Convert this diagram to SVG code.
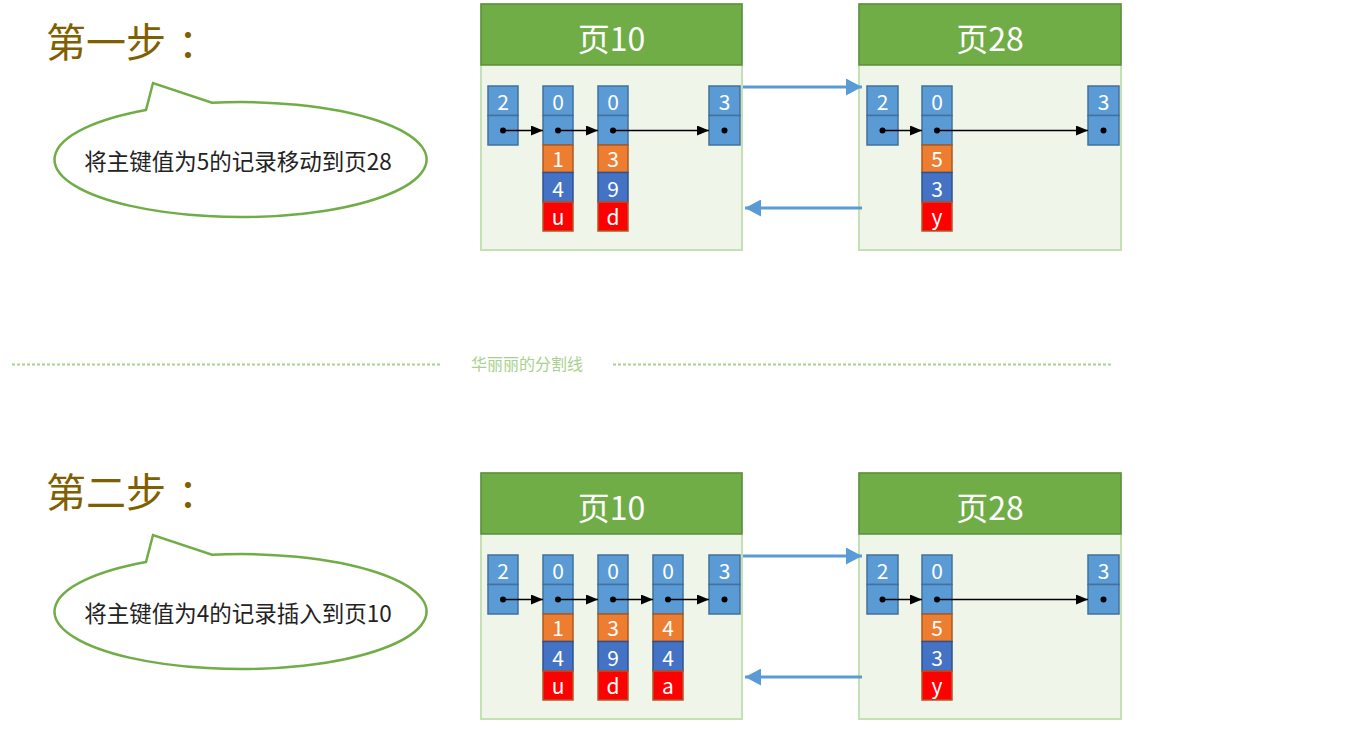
<svg xmlns="http://www.w3.org/2000/svg" width="1359" height="730" viewBox="0 0 1359 730">
<style>
.page{fill:#eff5e9;stroke:#c5e0b4;stroke-width:2}
.hdr{fill:#70ad47;stroke:#5b8f3b;stroke-width:1.5}
.htxt{fill:#fff;font-family:"Noto Sans CJK SC",sans-serif;font-size:32px;text-anchor:middle}
.c{fill:#5b9bd5;stroke:#41719c;stroke-width:1.5}
.o{fill:#ed7d31;stroke:#ae5a21;stroke-width:1.5}
.b{fill:#4472c4;stroke:#2f528f;stroke-width:1.5}
.r{fill:#ff0000;stroke:#b4562a;stroke-width:1.5}
.t{fill:#fff;font-family:"Noto Sans CJK SC",sans-serif;font-size:21px;text-anchor:middle}
.d{fill:#000}
.ptr{stroke:#000;stroke-width:1.3;fill:none;marker-end:url(#ah)}
.link{stroke:#5b9bd5;stroke-width:3;fill:none;marker-end:url(#bh)}
.title{fill:#7f6000;font-family:"Noto Sans CJK SC",sans-serif;font-size:40px}
.bubble{fill:#fff;stroke:#70ad47;stroke-width:2.5}
.btxt{fill:#222;font-family:"Noto Sans CJK SC",sans-serif;font-size:22.5px;text-anchor:middle}
.div{stroke:#a9d18e;stroke-width:2;stroke-dasharray:3 2}
.dtxt{fill:#a9d18e;font-family:"Noto Sans CJK SC",sans-serif;font-size:16px;text-anchor:middle}
</style>
<defs>
<marker id="ah" markerUnits="userSpaceOnUse" markerWidth="12" markerHeight="10" refX="12" refY="5" orient="auto"><path d="M0,0 L12,5 L0,10 z" fill="#000"/></marker>
<marker id="bh" markerUnits="userSpaceOnUse" markerWidth="17" markerHeight="17" refX="16" refY="8.5" orient="auto"><path d="M0,0 L16,8.5 L0,17 z" fill="#5b9bd5"/></marker>
</defs>
<rect width="1359" height="730" fill="#fff"/>

<g id="step1-title"><text class="title" x="46" y="57">第一步<tspan dx="12">：</tspan></text></g>
<g id="step1-bubble">
<path class="bubble" d="M146,110 L153,83 L212,102.7 A186 57.5 0 1 1 146,110 Z"/>
<text class="btxt" x="238" y="170">将主键值为5的记录移动到页28</text>
</g>

<g id="step1-page10">
<rect class="page" x="481" y="4" width="261" height="246"/>
<rect class="hdr" x="481" y="4" width="261" height="61"/>
<text class="htxt" x="611.5" y="51">页10</text>
<g transform="translate(488,0)"><rect class="c" x="0" y="86" width="30" height="29.5"/><rect class="c" x="0" y="115.5" width="30" height="29.5"/><text class="t" x="15" y="110">2</text><circle class="d" cx="15" cy="130.5" r="3"/></g>
<g transform="translate(543,0)"><rect class="c" x="0" y="86" width="30" height="29.5"/><rect class="c" x="0" y="115.5" width="30" height="29.5"/><text class="t" x="15" y="110">0</text><circle class="d" cx="15" cy="130.5" r="3"/>
<rect class="o" x="0" y="145" width="30" height="27.5"/><rect class="b" x="0" y="172.5" width="30" height="29.5"/><rect class="r" x="0" y="202" width="30" height="29"/>
<text class="t" x="15" y="167">1</text><text class="t" x="15" y="196.5">4</text><text class="t" x="15" y="224.5">u</text></g>
<g transform="translate(598,0)"><rect class="c" x="0" y="86" width="30" height="29.5"/><rect class="c" x="0" y="115.5" width="30" height="29.5"/><text class="t" x="15" y="110">0</text><circle class="d" cx="15" cy="130.5" r="3"/>
<rect class="o" x="0" y="145" width="30" height="27.5"/><rect class="b" x="0" y="172.5" width="30" height="29.5"/><rect class="r" x="0" y="202" width="30" height="29"/>
<text class="t" x="15" y="167">3</text><text class="t" x="15" y="196.5">9</text><text class="t" x="15" y="224.5">d</text></g>
<g transform="translate(709,0)"><rect class="c" x="0" y="86" width="31" height="29.5"/><rect class="c" x="0" y="115.5" width="31" height="29.5"/><text class="t" x="15.5" y="110">3</text><circle class="d" cx="15.5" cy="130.5" r="3"/></g>
</g>

<g id="step1-page28">
<rect class="page" x="859" y="4" width="262" height="246"/>
<rect class="hdr" x="859" y="4" width="262" height="61"/>
<text class="htxt" x="990" y="51">页28</text>
<g transform="translate(867,0)"><rect class="c" x="0" y="86" width="31" height="29.5"/><rect class="c" x="0" y="115.5" width="31" height="29.5"/><text class="t" x="15.5" y="110">2</text><circle class="d" cx="15.5" cy="130.5" r="3"/></g>
<g transform="translate(922,0)"><rect class="c" x="0" y="86" width="30" height="29.5"/><rect class="c" x="0" y="115.5" width="30" height="29.5"/><text class="t" x="15" y="110">0</text><circle class="d" cx="15" cy="130.5" r="3"/>
<rect class="o" x="0" y="145" width="30" height="27.5"/><rect class="b" x="0" y="172.5" width="30" height="29.5"/><rect class="r" x="0" y="202" width="30" height="29"/>
<text class="t" x="15" y="167">5</text><text class="t" x="15" y="196.5">3</text><text class="t" x="15" y="224.5">y</text></g>
<g transform="translate(1088,0)"><rect class="c" x="0" y="86" width="31" height="29.5"/><rect class="c" x="0" y="115.5" width="31" height="29.5"/><text class="t" x="15.5" y="110">3</text><circle class="d" cx="15.5" cy="130.5" r="3"/></g>
</g>

<g id="divider">
<line class="div" x1="12" y1="364.5" x2="440" y2="364.5"/>
<line class="div" x1="613" y1="364.5" x2="1113" y2="364.5"/>
<text class="dtxt" x="527" y="370">华丽丽的分割线</text>
</g>

<g id="step2-title"><text class="title" x="46" y="507">第二步<tspan dx="12">：</tspan></text></g>
<g id="step2-bubble" transform="translate(0,452)">
<path class="bubble" d="M146,110 L153,83 L212,102.7 A186 57.5 0 1 1 146,110 Z"/>
<text class="btxt" x="238" y="170">将主键值为4的记录插入到页10</text>
</g>

<g id="step2-page10" transform="translate(0,469)">
<rect class="page" x="481" y="4" width="261" height="246"/>
<rect class="hdr" x="481" y="4" width="261" height="61"/>
<text class="htxt" x="611.5" y="51">页10</text>
<g transform="translate(488,0)"><rect class="c" x="0" y="86" width="30" height="29.5"/><rect class="c" x="0" y="115.5" width="30" height="29.5"/><text class="t" x="15" y="110">2</text><circle class="d" cx="15" cy="130.5" r="3"/></g>
<g transform="translate(543,0)"><rect class="c" x="0" y="86" width="30" height="29.5"/><rect class="c" x="0" y="115.5" width="30" height="29.5"/><text class="t" x="15" y="110">0</text><circle class="d" cx="15" cy="130.5" r="3"/>
<rect class="o" x="0" y="145" width="30" height="27.5"/><rect class="b" x="0" y="172.5" width="30" height="29.5"/><rect class="r" x="0" y="202" width="30" height="29"/>
<text class="t" x="15" y="167">1</text><text class="t" x="15" y="196.5">4</text><text class="t" x="15" y="224.5">u</text></g>
<g transform="translate(598,0)"><rect class="c" x="0" y="86" width="30" height="29.5"/><rect class="c" x="0" y="115.5" width="30" height="29.5"/><text class="t" x="15" y="110">0</text><circle class="d" cx="15" cy="130.5" r="3"/>
<rect class="o" x="0" y="145" width="30" height="27.5"/><rect class="b" x="0" y="172.5" width="30" height="29.5"/><rect class="r" x="0" y="202" width="30" height="29"/>
<text class="t" x="15" y="167">3</text><text class="t" x="15" y="196.5">9</text><text class="t" x="15" y="224.5">d</text></g>
<g transform="translate(653,0)"><rect class="c" x="0" y="86" width="30" height="29.5"/><rect class="c" x="0" y="115.5" width="30" height="29.5"/><text class="t" x="15" y="110">0</text><circle class="d" cx="15" cy="130.5" r="3"/>
<rect class="o" x="0" y="145" width="30" height="27.5"/><rect class="b" x="0" y="172.5" width="30" height="29.5"/><rect class="r" x="0" y="202" width="30" height="29"/>
<text class="t" x="15" y="167">4</text><text class="t" x="15" y="196.5">4</text><text class="t" x="15" y="224.5">a</text></g>
<g transform="translate(709,0)"><rect class="c" x="0" y="86" width="31" height="29.5"/><rect class="c" x="0" y="115.5" width="31" height="29.5"/><text class="t" x="15.5" y="110">3</text><circle class="d" cx="15.5" cy="130.5" r="3"/></g>
</g>

<g id="step2-page28" transform="translate(0,469)">
<rect class="page" x="859" y="4" width="262" height="246"/>
<rect class="hdr" x="859" y="4" width="262" height="61"/>
<text class="htxt" x="990" y="51">页28</text>
<g transform="translate(867,0)"><rect class="c" x="0" y="86" width="31" height="29.5"/><rect class="c" x="0" y="115.5" width="31" height="29.5"/><text class="t" x="15.5" y="110">2</text><circle class="d" cx="15.5" cy="130.5" r="3"/></g>
<g transform="translate(922,0)"><rect class="c" x="0" y="86" width="30" height="29.5"/><rect class="c" x="0" y="115.5" width="30" height="29.5"/><text class="t" x="15" y="110">0</text><circle class="d" cx="15" cy="130.5" r="3"/>
<rect class="o" x="0" y="145" width="30" height="27.5"/><rect class="b" x="0" y="172.5" width="30" height="29.5"/><rect class="r" x="0" y="202" width="30" height="29"/>
<text class="t" x="15" y="167">5</text><text class="t" x="15" y="196.5">3</text><text class="t" x="15" y="224.5">y</text></g>
<g transform="translate(1088,0)"><rect class="c" x="0" y="86" width="31" height="29.5"/><rect class="c" x="0" y="115.5" width="31" height="29.5"/><text class="t" x="15.5" y="110">3</text><circle class="d" cx="15.5" cy="130.5" r="3"/></g>
</g>

<g id="connectors">
<line class="ptr" x1="503" y1="130.5" x2="543" y2="130.5"/>
<line class="ptr" x1="558" y1="130.5" x2="598" y2="130.5"/>
<line class="ptr" x1="613" y1="130.5" x2="709" y2="130.5"/>
<line class="ptr" x1="882.5" y1="130.5" x2="922" y2="130.5"/>
<line class="ptr" x1="937" y1="130.5" x2="1088" y2="130.5"/>
<line class="link" x1="743" y1="87" x2="862" y2="87"/>
<line class="link" x1="862" y1="208" x2="745" y2="208"/>
<line class="ptr" x1="503" y1="599.5" x2="543" y2="599.5"/>
<line class="ptr" x1="558" y1="599.5" x2="598" y2="599.5"/>
<line class="ptr" x1="613" y1="599.5" x2="653" y2="599.5"/>
<line class="ptr" x1="668" y1="599.5" x2="709" y2="599.5"/>
<line class="ptr" x1="882.5" y1="599.5" x2="922" y2="599.5"/>
<line class="ptr" x1="937" y1="599.5" x2="1088" y2="599.5"/>
<line class="link" x1="743" y1="556" x2="862" y2="556"/>
<line class="link" x1="862" y1="677" x2="745" y2="677"/>
</g>
</svg>
